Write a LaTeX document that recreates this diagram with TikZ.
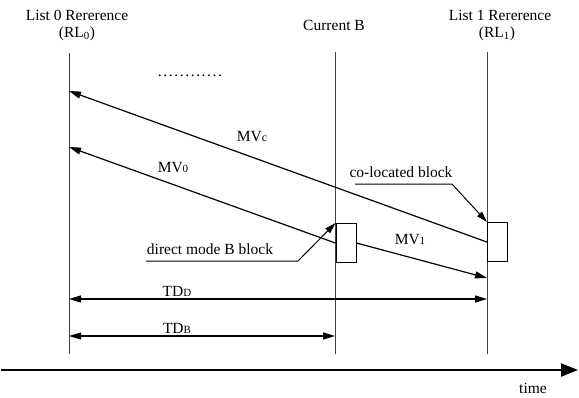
\documentclass[tikz,border=0pt]{standalone}
\usepackage{fontspec}
\setmainfont{Liberation Serif}
\usetikzlibrary{arrows.meta}
\begin{document}
\begin{tikzpicture}[x=1pt,y=-1pt,
  lbl/.style={font=\fontsize{15.5}{17}\selectfont, inner sep=0pt},
  vline/.style={line width=0.6pt, black!75},
  mv/.style={line width=1.2pt, -{Triangle[length=12pt,width=7pt]}},
  dimarrow/.style={line width=1.2pt, {Triangle[length=12pt,width=7pt]}-{Triangle[length=12pt,width=7pt]}},
  blk/.style={draw, line width=1.1pt, minimum width=20pt, minimum height=39pt, inner sep=0pt},
  callout/.style={line width=1pt, -{Triangle[length=11pt,width=6.5pt]}},
]
\useasboundingbox (0,0) rectangle (579,397);
% time lines
\coordinate (L0t) at (69,53);  \coordinate (L0b) at (69,354);
\coordinate (CBt) at (335,52); \coordinate (CBb) at (335,354);
\coordinate (L1t) at (487,52); \coordinate (L1b) at (487,354);
\draw[vline] (L0t) -- (L0b);
\draw[vline] (CBt) -- (CBb);
\draw[vline] (L1t) -- (L1b);
% headings
\node[lbl] (h0) at (77,15) {List 0 Rererence};
\node[lbl] (h0b) at (77,34) {(RL\textsubscript{0})};
\node[lbl] (hc) at (334,25) {Current B};
\node[lbl] (h1) at (500,15) {List 1 Rererence};
\node[lbl] (h1b) at (497,34) {(RL\textsubscript{1})};
\node[lbl] (dots) at (190,76) {.\hspace{1.6pt}.\hspace{1.6pt}.\hspace{1.6pt}.\hspace{1.6pt}.\hspace{1.6pt}.\hspace{1.6pt}.\hspace{1.6pt}.\hspace{1.6pt}.\hspace{1.6pt}.\hspace{1.6pt}.\hspace{1.6pt}.};
% blocks
\node[blk, anchor=north west] (dmb) at (335.5,223) {};
\node[blk, anchor=north west] (col) at (487,222) {};
% motion vectors
\coordinate (mvcEnd) at (69,91);
\coordinate (mv0End) at (69,147);
\coordinate (mv1End) at (487,278);
\draw[mv] (col.west) -- (mvcEnd);
\draw[mv] (dmb.west) -- (mv0End);
\draw[mv] (dmb.east) -- (mv1End);
\node[lbl] (mvc) at (252,137) {MV{\fontsize{12}{12}\selectfont c}};
\node[lbl] (mv0) at (173,168) {MV{\fontsize{11}{11}\selectfont 0}};
\node[lbl] (mv1) at (410,240) {MV{\fontsize{11}{11}\selectfont 1}};
% callouts
\node[lbl] (coltxt) at (401,172) {co-located block};
\coordinate (colU1) at (355,184); \coordinate (colU2) at (452,184);
\draw[callout] (colU1) -- (colU2) -- (col.north west);
\node[lbl] (dmtxt) at (210,249) {direct mode B block};
\coordinate (dmU1) at (146,261); \coordinate (dmU2) at (298,261);
\draw[callout] (dmU1) -- (dmU2) -- (dmb.north west);
% temporal distances
\coordinate (tdd0) at (69,299); \coordinate (tdd1) at (487,299);
\coordinate (tdb0) at (69,336); \coordinate (tdb1) at (335,336);
\draw[dimarrow] (tdd0) -- (tdd1);
\draw[dimarrow] (tdb0) -- (tdb1);
\node[lbl] (tddl) at (177,291) {TD{\fontsize{11}{11}\selectfont D}};
\node[lbl] (tdbl) at (177,328) {TD{\fontsize{11}{11}\selectfont B}};
% time axis
\coordinate (t0) at (1,370); \coordinate (t1) at (578,370);
\draw[line width=2.2pt, -{Triangle[length=17pt,width=13pt]}] (t0) -- (t1);
\node[lbl] (time) at (533,388) {time};
\end{tikzpicture}
\end{document}
